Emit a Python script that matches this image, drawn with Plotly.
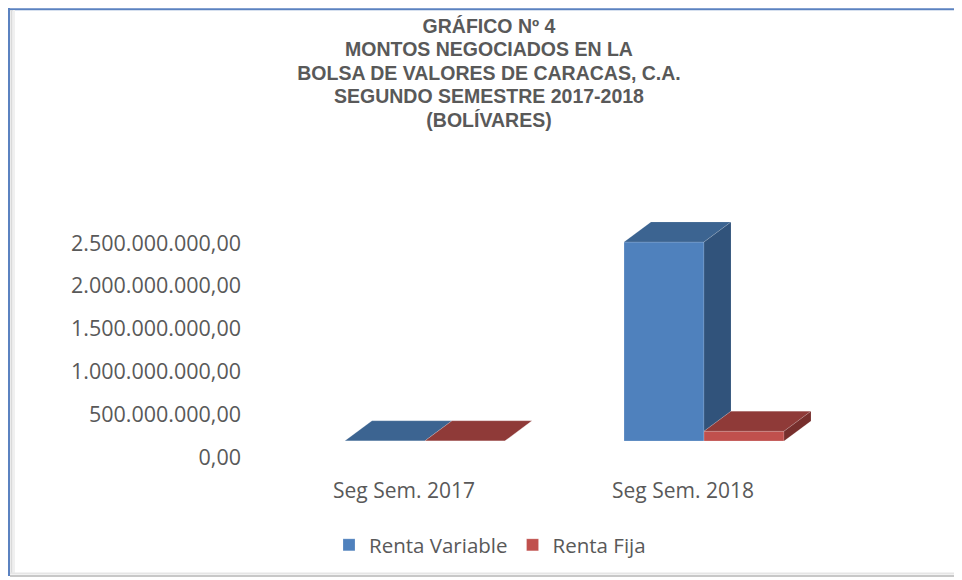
import plotly.graph_objects as go

# ---------------- data ----------------
categories = ["Seg Sem. 2017", "Seg Sem. 2018"]
renta_variable = [2_000_000, 2_325_000_000]
renta_fija = [1_500_000, 115_000_000]
tick_values = [0, 500_000_000, 1_000_000_000, 1_500_000_000, 2_000_000_000, 2_500_000_000]
tick_labels = ["0,00", "500.000.000,00", "1.000.000.000,00", "1.500.000.000,00",
               "2.000.000.000,00", "2.500.000.000,00"]
series_names = ["Renta Variable", "Renta Fija"]
title_lines = ["GRÁFICO Nº 4", "MONTOS NEGOCIADOS EN LA", "BOLSA DE VALORES DE CARACAS, C.A.",
               "SEGUNDO SEMESTRE 2017-2018", "(BOLÍVARES)"]

# ---------------- layout geometry (reference pixels, page body offset compensated) ----------------
OFF = 8                     # default page body margin
W, H = 962 - OFF, 580 - OFF
PLOT_L, PLOT_R, PLOT_T, PLOT_B = 250, 950, 150, 470   # in reference pixels
ML, MR = PLOT_L - OFF, W - (PLOT_R - OFF)
MT, MB = PLOT_T - OFF, H - (PLOT_B - OFF)
PW, PH = PLOT_R - PLOT_L, PLOT_B - PLOT_T
CAT_PX = 279.0          # pixels between categories
Y_PX_PER_B = 85.6       # pixels per 1e9
X0_PX = 425.0           # reference pixel of first category center
Y0_PX = 441.0           # reference pixel of value 0 (front face base)

x_range = [(PLOT_L - X0_PX) / CAT_PX, (PLOT_R - X0_PX) / CAT_PX]
y_range = [-(PLOT_B - Y0_PX) / Y_PX_PER_B * 1e9, (Y0_PX - PLOT_T) / Y_PX_PER_B * 1e9]

bar_w = 80 / CAT_PX
ddx = 27 / CAT_PX
ddy = 20 / Y_PX_PER_B * 1e9

xpos = list(range(len(categories)))

colors = {
    "Renta Variable": ("#4F81BD", "#3C6491", "#31537B"),
    "Renta Fija": ("#C0504D", "#8F3A38", "#772F2D"),
}

fig = go.Figure()

# front faces (real bars)
for name, vals, off in [(series_names[0], renta_variable, -bar_w), (series_names[1], renta_fija, 0.0)]:
    fig.add_trace(go.Bar(
        x=xpos, y=vals, name=name, width=bar_w, offset=off,
        marker=dict(color=colors[name][0], line=dict(color="rgba(255,255,255,0.35)", width=0.6)),
        showlegend=True,
    ))


def face(xs, ys, color):
    fig.add_trace(go.Scatter(
        x=xs, y=ys, mode="lines", fill="toself", fillcolor=color,
        line=dict(color="rgba(255,255,255,0.25)", width=0.5),
        hoverinfo="skip", showlegend=False,
    ))


# depth faces, derived from data values
for i, c in enumerate(xpos):
    v_b = renta_variable[i]
    v_r = renta_fija[i]
    x0, x1 = c - bar_w, c
    face([x0, x1, x1 + ddx, x0 + ddx, x0], [v_b, v_b, v_b + ddy, v_b + ddy, v_b], colors["Renta Variable"][1])
    floor = min(v_r, v_b)
    face([x1, x1, x1 + ddx, x1 + ddx, x1], [floor, v_b, v_b + ddy, floor + ddy, floor], colors["Renta Variable"][2])
    x0, x1 = c, c + bar_w
    face([x0, x1, x1 + ddx, x0 + ddx, x0], [v_r, v_r, v_r + ddy, v_r + ddy, v_r], colors["Renta Fija"][1])
    face([x1, x1, x1 + ddx, x1 + ddx, x1], [0, v_r, v_r + ddy, ddy, 0], colors["Renta Fija"][2])


def px_x(p):
    return (p - PLOT_L) / PW


def px_y(p):
    return (PLOT_B - p) / PH


def hline(x0, x1, y, color, w):
    return dict(type="line", xref="paper", yref="paper", x0=px_x(x0), x1=px_x(x1),
                y0=px_y(y), y1=px_y(y), line=dict(color=color, width=w))


def vline(x, y0, y1, color, w):
    return dict(type="line", xref="paper", yref="paper", x0=px_x(x), x1=px_x(x),
                y0=px_y(y0), y1=px_y(y1), line=dict(color=color, width=w))


shapes = [
    hline(9, 958, 9.2, "#5B82C0", 2),
    vline(9, 8, 576, "#5B82C0", 2),
    vline(11.5, 10, 574, "#DADADA", 2),
    vline(14, 10, 574, "#F0F0F0", 2),
    vline(958, 14, 577, "#C8C8C8", 2),
    vline(955.5, 16, 575, "#E6E6E6", 2),
    hline(10, 958, 576, "#C8C8C8", 2),
    hline(10, 956, 573.5, "#E6E6E6", 2),
]

title_text = "<br>".join('<span style="font-size:19.5px">' + t + "</span>" for t in title_lines)

fig.update_layout(
    width=W, height=H,
    margin=dict(l=ML, r=MR, t=MT, b=MB, pad=0),
    paper_bgcolor="white", plot_bgcolor="white",
    barmode="overlay",
    title=dict(
        text=title_text,
        x=(489 - OFF) / W, xanchor="center", xref="container",
        y=1 - 25 / H, yanchor="top", yref="container",
        font=dict(family="Liberation Sans, Arial, sans-serif", size=18, color="#595959", weight="bold"),
    ),
    xaxis=dict(
        range=x_range, tickmode="array", tickvals=xpos, ticktext=categories,
        showgrid=False, zeroline=False, showline=False, ticks="",
        tickfont=dict(family="Open Sans, sans-serif", size=21, color="#595959"),
        ticklabelshift=-21, ticklabelstandoff=6, fixedrange=True,
    ),
    yaxis=dict(
        range=y_range, tickmode="array", tickvals=tick_values, ticktext=tick_labels,
        showgrid=False, zeroline=False, showline=False, ticks="",
        tickfont=dict(family="Open Sans, sans-serif", size=21.5, color="#595959"),
        ticklabelshift=16, ticklabelstandoff=8, fixedrange=True,
    ),
    legend=dict(
        orientation="h", x=px_x(490), xanchor="center", y=px_y(545), yanchor="middle",
        font=dict(family="Open Sans, sans-serif", size=20.5, color="#595959"),
        bgcolor="rgba(0,0,0,0)",
    ),
    shapes=shapes,
    showlegend=True,
)

fig.write_html("out.html")
